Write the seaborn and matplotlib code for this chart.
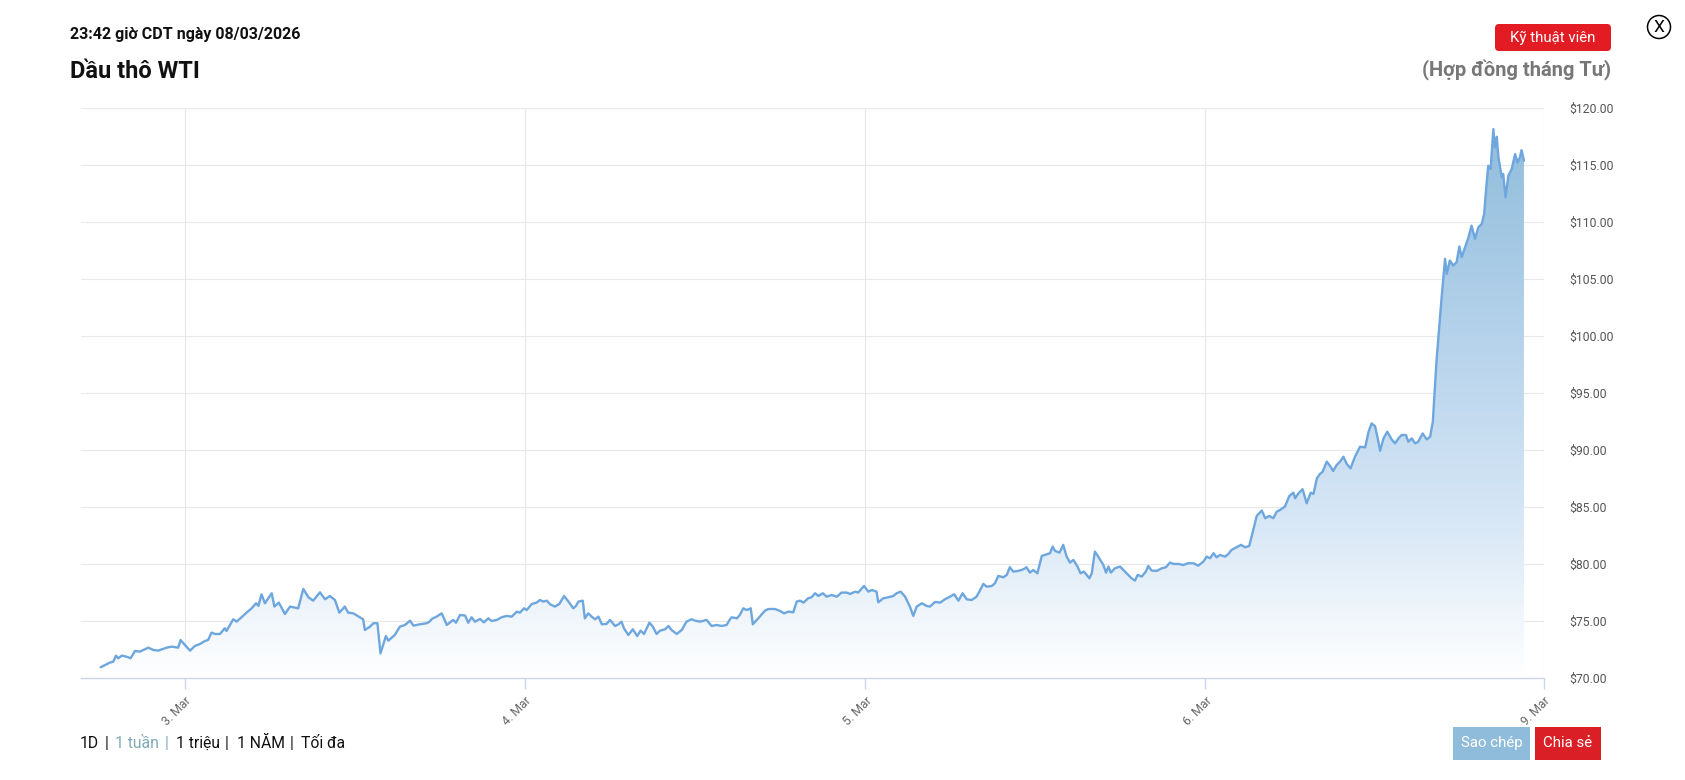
import numpy as np
import pandas as pd
import seaborn as sns
import matplotlib.pyplot as plt
from matplotlib.colors import LinearSegmentedColormap
from matplotlib.patches import FancyBboxPatch, Rectangle, Circle
from matplotlib.transforms import IdentityTransform
from matplotlib.ticker import FuncFormatter

# phien: vi tri theo ngay giao dich (3. Mar = 0), gia: gia dau WTI (USD)
phien = [-0.248, -0.221, -0.211, -0.203, -0.196, -0.186, -0.172, -0.160, -0.147, -0.133,
         -0.108, -0.093, -0.079, -0.054, -0.039, -0.020, -0.013, 0.000, 0.015, 0.029,
         0.044, 0.059, 0.068, 0.078, 0.088, 0.103, 0.117, 0.122, 0.142, 0.152,
         0.166, 0.181, 0.196, 0.209, 0.216, 0.225, 0.235, 0.255, 0.263, 0.276,
         0.294, 0.309, 0.333, 0.348, 0.363, 0.377, 0.397, 0.412, 0.426, 0.441,
         0.454, 0.470, 0.480, 0.495, 0.524, 0.529, 0.544, 0.554, 0.566, 0.575,
         0.591, 0.598, 0.617,
         0.632, 0.647, 0.662, 0.672, 0.691, 0.711, 0.719, 0.726, 0.740, 0.755,
         0.770, 0.789, 0.797, 0.809, 0.824, 0.833, 0.843, 0.853, 0.868, 0.879,
         0.892, 0.902, 0.917, 0.931, 0.946, 0.961, 0.976, 0.985, 0.997, 1.005,
         1.020, 1.034, 1.044, 1.054, 1.064, 1.074, 1.088, 1.101, 1.115, 1.128,
         1.142, 1.150, 1.157, 1.170, 1.176, 1.186, 1.196, 1.206, 1.216, 1.226,
         1.240, 1.250, 1.265, 1.275, 1.284, 1.291, 1.304, 1.317, 1.330, 1.340,
         1.350, 1.366, 1.376, 1.387, 1.397, 1.412, 1.422, 1.431, 1.446, 1.461,
         1.475, 1.490, 1.500, 1.515, 1.534, 1.549, 1.564, 1.578, 1.593, 1.603,
         1.608, 1.623, 1.632, 1.642, 1.652, 1.664, 1.670, 1.686, 1.706, 1.716,
         1.735, 1.750, 1.762, 1.775, 1.789, 1.799, 1.809, 1.819, 1.833, 1.843,
         1.853, 1.863, 1.876, 1.887, 1.902, 1.917, 1.931, 1.946, 1.956, 1.971,
         1.980, 1.997, 2.010, 2.020, 2.034, 2.039, 2.054, 2.069, 2.083, 2.093,
         2.105, 2.118, 2.132, 2.142, 2.152, 2.167, 2.181, 2.191, 2.206, 2.221,
         2.235, 2.250, 2.262, 2.275, 2.287, 2.299, 2.314, 2.328, 2.338, 2.348,
         2.358, 2.373, 2.382, 2.392, 2.407, 2.417, 2.426, 2.436, 2.451, 2.466,
         2.475, 2.485, 2.495, 2.507, 2.520, 2.529, 2.544,
         2.552, 2.559, 2.572, 2.583, 2.593, 2.603, 2.613, 2.625, 2.634, 2.644,
         2.652, 2.660, 2.667, 2.676, 2.686, 2.701, 2.709, 2.716, 2.723, 2.735,
         2.750, 2.760, 2.772, 2.784, 2.794, 2.802, 2.814, 2.826, 2.833, 2.843,
         2.858, 2.873, 2.885, 2.897, 2.907, 2.922, 2.936, 2.951, 2.966, 2.980,
         2.995, 3.005, 3.015, 3.025, 3.034, 3.044, 3.059, 3.069, 3.078, 3.093,
         3.106, 3.118, 3.130, 3.142, 3.152, 3.167, 3.177, 3.189, 3.201, 3.211,
         3.221, 3.235, 3.248,
         3.252, 3.260, 3.265, 3.275, 3.287, 3.299, 3.311, 3.319, 3.329, 3.338,
         3.346, 3.358, 3.368, 3.377, 3.387, 3.397, 3.407, 3.417, 3.428, 3.441,
         3.456, 3.471, 3.481, 3.490, 3.500, 3.508, 3.515, 3.525, 3.536, 3.549,
         3.559, 3.569, 3.578, 3.591, 3.598, 3.608, 3.618, 3.627, 3.640, 3.652,
         3.662, 3.670, 3.681, 3.696, 3.706, 3.711, 3.720, 3.730, 3.740, 3.748,
         3.755, 3.765, 3.775, 3.784, 3.794, 3.804, 3.814, 3.821, 3.828, 3.833,
         3.840, 3.848, 3.853, 3.858, 3.863, 3.873, 3.877, 3.884, 3.892, 3.902,
         3.912, 3.919, 3.926, 3.931, 3.938]

gia = [70.94, 71.35, 71.43, 71.96, 71.73, 71.96, 71.87, 71.73, 72.37, 72.31,
       72.66, 72.46, 72.40, 72.66, 72.75, 72.66, 73.33, 72.89, 72.40, 72.81,
       72.98, 73.25, 73.33, 73.98, 73.86, 73.86, 74.36, 74.12, 75.15, 74.94,
       75.32, 75.73, 76.11, 76.55, 76.32, 77.34, 76.55, 77.43, 76.26, 76.61,
       75.61, 76.26, 76.11, 77.81, 77.08, 76.78, 77.51, 76.90, 77.19, 76.84,
       75.73, 76.26, 75.73, 75.67, 75.15, 74.21, 74.50, 74.80, 74.80, 72.16,
       73.68, 73.27, 73.77,
       74.50, 74.65, 75.03, 74.59, 74.71, 74.80, 74.94, 75.18, 75.38, 75.67,
       74.65, 75.09, 74.85, 75.53, 75.47, 74.85, 75.32, 74.94, 75.18, 74.88,
       75.23, 75.00, 75.09, 75.32, 75.44, 75.38, 75.82, 75.73, 76.11, 75.96,
       76.49, 76.61, 76.84, 76.70, 76.78, 76.46, 76.26, 76.49, 77.19, 76.70,
       76.11, 76.32, 76.70, 76.78, 75.23, 75.67, 75.38, 75.15, 75.38, 74.71,
       74.74, 75.09, 74.56, 74.71, 74.94, 74.36, 73.77, 74.27, 73.68, 74.15,
       73.86, 74.85, 74.50, 73.86, 74.15, 74.27, 74.56, 74.21, 73.86, 74.21,
       74.94, 75.15, 75.03, 74.94, 75.09, 74.56, 74.65, 74.56, 74.65, 75.15,
       75.32, 75.23, 75.53, 76.11, 75.96, 76.11, 74.71, 75.23, 75.91, 76.05,
       76.05, 75.88, 75.67, 75.82, 75.76, 76.70, 76.78, 76.61, 76.99, 77.08,
       77.43, 77.19, 77.43, 77.13, 77.28, 77.13, 77.49, 77.49, 77.37, 77.57,
       77.49, 78.07, 77.57, 77.72, 77.57, 76.64, 76.99, 77.08, 77.19, 77.43,
       77.57, 77.13, 76.26, 75.44, 76.26, 76.55, 76.32, 76.26, 76.67, 76.61,
       76.90, 77.13, 77.34, 76.78, 77.43, 76.90, 76.84, 77.13, 77.66, 78.25,
       78.01, 78.07, 78.30, 78.95, 78.83, 79.04, 79.71, 79.33, 79.39, 79.53,
       79.71, 79.24, 79.47, 79.18, 80.70, 80.79, 80.94,
       81.52, 81.14, 80.99, 81.67, 80.64, 80.12, 80.35, 79.77, 79.18, 79.33,
       79.04, 78.74, 79.18, 81.08, 80.64, 79.91, 79.24, 79.77, 79.24, 79.62,
       79.77, 79.47, 79.12, 78.74, 78.54, 79.04, 78.89, 79.33, 79.82, 79.42,
       79.39, 79.62, 79.71, 80.12, 80.00, 80.00, 79.91, 80.06, 80.06, 79.85,
       80.20, 80.64, 80.50, 80.94, 80.58, 80.79, 80.64, 80.88, 81.23, 81.46,
       81.67, 81.46, 81.58, 82.98, 84.21, 84.68, 84.01, 84.21, 84.01, 84.59,
       84.74, 85.03, 85.96,
       86.05, 86.25, 85.76, 86.20, 86.55, 85.32, 86.25, 86.14, 87.51, 87.89,
       88.09, 88.97, 88.59, 88.15, 88.67, 88.97, 89.40, 88.76, 88.38, 89.40,
       90.28, 90.22, 91.59, 92.32, 92.08, 91.01, 89.93, 91.01, 91.59, 90.92,
       90.57, 91.01, 91.30, 91.30, 90.71, 91.01, 90.57, 90.71, 91.44, 90.92,
       91.15, 92.46, 97.86, 103.40, 106.75, 105.44, 106.60, 106.17, 106.46, 107.83,
       106.90, 107.77, 108.64, 109.66, 108.50, 109.52, 109.81, 110.69, 113.31, 114.91,
       114.62, 118.12, 116.52, 117.45, 115.64, 113.89, 114.18, 112.14, 114.04, 114.62,
       115.93, 115.20, 115.64, 116.28, 115.35]

ngay_ticks = [0, 1, 2, 3, 3.997]
ngay_nhan = ["3. Mar", "4. Mar", "5. Mar", "6. Mar", "9. Mar"]
gia_ticks = [70, 75, 80, 85, 90, 95, 100, 105, 110, 115, 120]
menu = ["1D", "|", "1 tuần", "|", "1 triệu", "|", "1 NĂM", "|", "Tối đa"]

df = pd.DataFrame({"phien": phien, "gia": gia})

sns.set_theme(style="white")
plt.rcParams["font.family"] = ["Roboto", "DejaVu Sans"]

W, H = 1685, 780
fig = plt.figure(figsize=(W / 100, H / 100), dpi=100)
ax = fig.add_axes([80.6 / W, 1 - 678 / H, (1544 - 80.6) / W, (678 - 107.7) / H])

xlim = (-0.307, 3.997)
ylim = (70, 120)

# vung to gradient duoi duong gia
poly = ax.fill_between(df.phien, df.gia, ylim[0], color="none", lw=0)
cmap = LinearSegmentedColormap.from_list(
    "wti", [(0, "#ffffff"), (0.3, "#d4e5f5"), (0.65, "#b0cfe9"), (1, "#8cbbda")])
grad = np.linspace(0, 1, 256).reshape(-1, 1)
im = ax.imshow(grad, cmap=cmap, aspect="auto", origin="lower",
               extent=[xlim[0], xlim[1], ylim[0], ylim[1]], zorder=1)
im.set_clip_path(poly.get_paths()[0], transform=ax.transData)

sns.lineplot(data=df, x="phien", y="gia", ax=ax, color="#6ea6de", lw=1.7, zorder=3)

ax.set_xlim(xlim)
ax.set_ylim(ylim)
ax.set_xlabel("")
ax.set_ylabel("")

ax.set_xticks(ngay_ticks)
ax.set_xticklabels(ngay_nhan, rotation=45, ha="right", rotation_mode="anchor",
                   fontsize=8.8, color="#666666")
ax.set_yticks(gia_ticks)
ax.yaxis.tick_right()
ax.yaxis.set_major_formatter(FuncFormatter(lambda v, p: "${:.2f}".format(v)))
ax.tick_params(axis="y", length=0, pad=18, labelsize=8.8, labelcolor="#555555")
ax.tick_params(axis="x", length=8, width=1, color="#ccd6eb", pad=4, bottom=True)

ax.grid(True, color="#e8e8e8", lw=0.8)
for s in ["top", "left", "right"]:
    ax.spines[s].set_visible(False)
ax.spines["bottom"].set_color("#ccd6eb")
ax.spines["bottom"].set_linewidth(1)

# tieu de
fig.text(70 / W, 1 - 35 / H, "23:42 giờ CDT ngày 08/03/2026", fontsize=11.5,
         fontweight="bold", color="#111111", va="center", ha="left")
fig.text(70 / W, 1 - 72 / H, "Dầu thô WTI", fontsize=17, fontweight="bold",
         color="#111111", va="center", ha="left")
fig.text(1611 / W, 1 - 70 / H, "(Hợp đồng tháng Tư)", fontsize=14.5, fontweight="bold",
         color="#777777", va="center", ha="right")

# nut do phia tren
fig.add_artist(FancyBboxPatch((1495, H - 51), 116, 27, boxstyle="round,pad=0,rounding_size=4",
                              fc="#e31b23", ec="none", transform=IdentityTransform()))
fig.text(1553 / W, 1 - 37.5 / H, "Kỹ thuật viên", fontsize=10.8, color="white",
         va="center", ha="center")

# nut X
fig.add_artist(Circle((1659, H - 27), 11.5, fc="none", ec="black", lw=1.1,
                      transform=IdentityTransform()))
fig.text(1659 / W, 1 - 27.5 / H, "X", fontsize=12.5, color="black", va="center", ha="center")

# menu khoang thoi gian
menu_x = [80, 105, 115, 165, 176, 225, 237, 290, 301]
for i, t in enumerate(menu):
    mau = "#7fa9b8" if i in (2, 3) else "#111111"
    fig.text(menu_x[i] / W, 1 - 743 / H, t, fontsize=11.3, color=mau, va="center", ha="left")

# nut duoi
fig.add_artist(Rectangle((1453, H - 760), 77, 33.5, fc="#8fbcdb", ec="none",
                         transform=IdentityTransform()))
fig.text(1491.5 / W, 1 - 743 / H, "Sao chép", fontsize=10.8, color="white",
         va="center", ha="center")
fig.add_artist(Rectangle((1535, H - 760), 66, 33.5, fc="#da1f26", ec="none",
                         transform=IdentityTransform()))
fig.text(1568 / W, 1 - 743 / H, "Chia sẻ", fontsize=10.8, color="white",
         va="center", ha="center")

fig.savefig("out.png", dpi=100, facecolor="white")
